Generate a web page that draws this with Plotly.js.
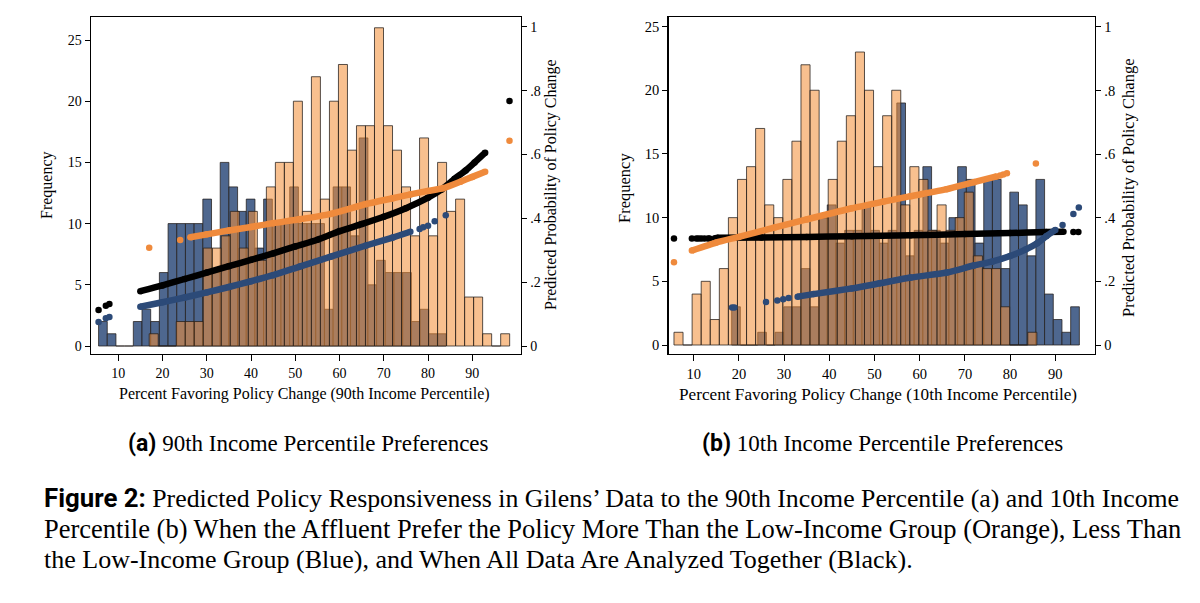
<!DOCTYPE html>
<html>
<head>
<meta charset="utf-8">
<script src="https://cdn.plot.ly/plotly-3.0.1.min.js"></script>
<style>
  html, body { margin: 0; padding: 0; background: #ffffff; }
  #chart { width: 1200px; height: 603px; }
</style>
</head>
<body>
<div id="chart"></div>
<script>
// ---- Histogram data: 40 bins per group (bin start and width in percent) ----
const leftBlueStart = 5.56, leftBlueWidth = 1.963;
const leftBlueCounts = [2,1,0,0,2,3,2,6,10,10, 10,10,12,6,15,13,11,12,8,12, 10,10,13,10,10,10,3,13,13,9, 17,5,7,6,6,6,2,3,1,1];
const leftOrangeStart = 17.0, leftOrangeWidth = 2.036;
const leftOrangeCounts = [1,0,0,2,2,2,8,8,9,11, 8,11,7,13,15,15,20,11,22,12, 20,23,16,18,18,26,18,16,13,9, 17,9,15,11,12,4,4,1,0,1];

const rightOrangeStart = 5.64, rightOrangeWidth = 2.007;
const rightOrangeCounts = [1,0,4,5,2,6,10,13,14,17, 11,10,13,16,22,20,10,13,16,18, 23,20,14,18,20,11,14,13,9,11, 9,10,12,7,6,6,3,0,0,1];
const rightBlueStart = 18.4, rightBlueWidth = 1.923;
const rightBlueCounts = [3,0,0,1,0,1,3,3,6,3, 10,11,8,9,9,11,9,8,9,19, 7,9,14,9,8,10,14,13,8,13, 13,6,12,11,7,13,4,2,1,3];

// ---- Predicted probabilities, panel (a) ----
const aBlackX = [15, 20, 25, 30, 35, 40, 45, 50, 55, 60, 65, 70, 75, 80, 83, 86, 88.5, 90.5, 92.9];
const aBlackP = [.172, .19, .21, .23, .25, .27, .29, .312, .333, .36, .382, .405, .432, .465, .49, .524, .55, .575, .606];
const aBlackDotsX = [5.56, 7.2, 8.0, 98.4];
const aBlackDotsP = [.113, .126, .132, .768];

const aOrangeX = [26.3, 30, 35, 40, 45, 51, 58, 66, 72, 76, 80, 83.5, 87.3, 90, 92.9];
const aOrangeP = [.341, .35, .362, .373, .385, .397, .414, .445, .463, .475, .486, .495, .515, .53, .546];
const aOrangeDotsX = [17.0, 24.0, 98.4];
const aOrangeDotsP = [.308, .332, .643];

const aBlueX = [15, 20, 25, 30, 35, 40, 45, 51, 58, 66, 72, 76];
const aBlueP = [.123, .137, .152, .168, .185, .203, .222, .249, .28, .315, .34, .358];
const aBlueDotsX = [5.56, 7.2, 8.0, 78.1, 78.9, 80.0, 81.5, 84.0];
const aBlueDotsP = [.075, .087, .091, .367, .372, .377, .391, .41];

// ---- Predicted probabilities, panel (b) ----
const bBlackX = [15.2, 25, 35, 45, 58, 70, 80, 88, 91.8];
const bBlackP = [.337, .338, .34, .342, .345, .349, .352, .355, .356];
const bBlackDotsX = [5.64, 9.6, 10.6, 11.1, 11.7, 12.4, 13.2, 13.5, 14.7, 94.0, 95.1];
const bBlackDotsP = [.335, .335, .335, .335, .335, .335, .335, .335, .336, .355, .355];

const bOrangeX = [9.6, 15, 20, 28, 35, 45, 52, 58, 66, 72, 77];
const bOrangeP = [.297, .322, .34, .37, .395, .43, .451, .468, .49, .512, .53];
const bOrangeDotsX = [5.64, 77.8, 78.5, 79.3, 85.7];
const bOrangeDotsP = [.26, .533, .536, .54, .571];

const bBlueX = [33, 36.5, 45, 51.2, 58, 66, 72, 76, 80, 83.4, 86, 88, 90];
const bBlueP = [.152, .16, .178, .194, .212, .228, .25, .262, .28, .3, .32, .342, .362];
const bBlueDotsX = [18.5, 19.0, 26.0, 28.5, 29.8, 31.0, 91.6, 94.0, 95.2];
const bBlueDotsP = [.118, .118, .135, .14, .144, .148, .377, .412, .432];

// ---- Tick labels ----
const freqTicks = [0, 5, 10, 15, 20, 25];
const probTicks = [0, .2, .4, .6, .8, 1];
const probTickText = ['0', '.2', '.4', '.6', '.8', '1'];
const pctTicks = [10, 20, 30, 40, 50, 60, 70, 80, 90];

// ---- Styling ----
const W = 1200, H = 603;
const BLUE_FILL = 'rgb(78,103,143)';
const ORANGE_FILL = 'rgba(243,143,56,0.56)';
const BAR_EDGE = 'rgba(35,30,28,0.85)';
const DOT_BLACK = '#000000';
const DOT_ORANGE = '#ef8a3c';
const DOT_BLUE = '#2c4a78';
const serif = 'Liberation Serif, Times New Roman, serif';
const condensed = 'Liberation Sans Narrow, Roboto, Liberation Sans, sans-serif';

function centers(start, width, n) {
  return Array.from({ length: n }, (_, i) => start + width * (i + 0.5));
}

function bars(start, width, counts, fill, xa, ya) {
  return {
    type: 'bar', x: centers(start, width, counts.length), y: counts,
    width: counts.map(() => width), xaxis: xa, yaxis: ya,
    marker: { color: fill, line: { color: BAR_EDGE, width: 0.9 } },
    hoverinfo: 'skip', showlegend: false
  };
}

function curve(x, y, color, xa, ya) {
  return {
    type: 'scatter', mode: 'lines+markers', x: x, y: y, xaxis: xa, yaxis: ya,
    line: { color: color, width: 6.5, shape: 'spline', smoothing: 0.6 },
    marker: { color: color, size: 6.5 }, hoverinfo: 'skip', showlegend: false
  };
}

function dots(x, y, color, xa, ya) {
  return {
    type: 'scatter', mode: 'markers', x: x, y: y, xaxis: xa, yaxis: ya,
    marker: { color: color, size: 6.5 }, hoverinfo: 'skip', showlegend: false
  };
}

const data = [
  bars(leftBlueStart, leftBlueWidth, leftBlueCounts, BLUE_FILL, 'x', 'y'),
  bars(leftOrangeStart, leftOrangeWidth, leftOrangeCounts, ORANGE_FILL, 'x', 'y'),
  curve(aBlackX, aBlackP, DOT_BLACK, 'x', 'y2'),
  dots(aBlackDotsX, aBlackDotsP, DOT_BLACK, 'x', 'y2'),
  curve(aOrangeX, aOrangeP, DOT_ORANGE, 'x', 'y2'),
  dots(aOrangeDotsX, aOrangeDotsP, DOT_ORANGE, 'x', 'y2'),
  curve(aBlueX, aBlueP, DOT_BLUE, 'x', 'y2'),
  dots(aBlueDotsX, aBlueDotsP, DOT_BLUE, 'x', 'y2'),

  bars(rightBlueStart, rightBlueWidth, rightBlueCounts, BLUE_FILL, 'x2', 'y3'),
  bars(rightOrangeStart, rightOrangeWidth, rightOrangeCounts, ORANGE_FILL, 'x2', 'y3'),
  curve(bBlackX, bBlackP, DOT_BLACK, 'x2', 'y4'),
  dots(bBlackDotsX, bBlackDotsP, DOT_BLACK, 'x2', 'y4'),
  curve(bOrangeX, bOrangeP, DOT_ORANGE, 'x2', 'y4'),
  dots(bOrangeDotsX, bOrangeDotsP, DOT_ORANGE, 'x2', 'y4'),
  curve(bBlueX, bBlueP, DOT_BLUE, 'x2', 'y4'),
  dots(bBlueDotsX, bBlueDotsP, DOT_BLUE, 'x2', 'y4')
];

const px = v => v / W;
const py = v => 1 - v / H;
const plotDomain = [py(354), py(17)];

function xAxis(domain, range, anchor, size) {
  return {
    domain: domain, range: range, anchor: anchor, tickvals: pctTicks,
    ticks: 'outside', ticklen: 6, tickwidth: 1, tickcolor: '#000',
    ticklabelstandoff: 0,
    showline: true, linecolor: '#000', linewidth: 1.4, mirror: true,
    showgrid: false, zeroline: false, fixedrange: true,
    tickfont: { family: serif, size: size, color: '#000' }
  };
}
function yAxis(range, anchor, size) {
  return {
    domain: plotDomain, range: range, anchor: anchor, tickvals: freqTicks,
    ticks: 'outside', ticklen: 5, tickwidth: 1, tickcolor: '#000',
    showline: true, linecolor: '#000', linewidth: 1.4,
    showgrid: false, zeroline: false, fixedrange: true,
    tickfont: { family: serif, size: size, color: '#000' }
  };
}
function probAxis(range, over, anchor, size) {
  return {
    overlaying: over, side: 'right', range: range, anchor: anchor,
    tickvals: probTicks, ticktext: probTickText,
    ticks: 'outside', ticklen: 5, tickwidth: 1, tickcolor: '#000',
    showline: true, linecolor: '#000', linewidth: 1.4,
    showgrid: false, zeroline: false, fixedrange: true,
    tickfont: { family: serif, size: size, color: '#000' }
  };
}

function label(text, x, y, size, opts) {
  return Object.assign({
    text: text, xref: 'paper', yref: 'paper', x: px(x), y: py(y),
    showarrow: false, xanchor: 'center', yanchor: 'middle',
    font: { family: serif, size: size, color: '#000' }
  }, opts || {});
}

const bold = t => '<span style="font-family:' + condensed + ';font-weight:bold">' + t + '</span>';

const annotations = [
  label('Frequency', 47, 185, 16, { textangle: -90 }),
  label('Predicted Probability of Policy Change', 551, 185, 16, { textangle: -90 }),
  label('Percent Favoring Policy Change (90th Income Percentile)', 304, 394, 16),
  label('Frequency', 624, 188, 16.5, { textangle: -90 }),
  label('Predicted Probability of Policy Change', 1128, 188, 16.5, { textangle: -90 }),
  label('Percent Favoring Policy Change (10th Income Percentile)', 878, 394, 17.2),
  label(bold('(a)') + ' 90th Income Percentile Preferences', 308, 443, 23),
  label(bold('(b)') + ' 10th Income Percentile Preferences', 882, 443, 23),
  label(bold('Figure 2:') + ' Predicted Policy Responsiveness in Gilens\u2019 Data to the 90th Income Percentile (a) and 10th Income', 42, 498, 25.8, { xanchor: 'left' }),
  label('Percentile (b) When the Affluent Prefer the Policy More Than the Low-Income Group (Orange), Less Than', 42, 529, 26.5, { xanchor: 'left' }),
  label('the Low-Income Group (Blue), and When All Data Are Analyzed Together (Black).', 42, 559, 26, { xanchor: 'left' })
];

const layout = {
  width: W, height: H, autosize: false,
  margin: { l: 0, r: 0, t: 0, b: 0, pad: 0 },
  paper_bgcolor: '#ffffff', plot_bgcolor: '#ffffff',
  barmode: 'overlay', bargap: 0, showlegend: false,
  xaxis: xAxis([px(91), px(521)], [3.85, 101.0], 'y', 14),
  yaxis: yAxis([-0.654, 26.88], 'x', 14),
  yaxis2: probAxis([-0.025, 1.031], 'y', 'x', 14),
  xaxis2: xAxis([px(668.5), px(1095)], [4.43, 98.78], 'y3', 14.5),
  yaxis3: yAxis([-0.706, 25.75], 'x2', 14.5),
  yaxis4: probAxis([-0.0283, 1.0314], 'y3', 'x2', 14.5),
  annotations: annotations
};

Plotly.newPlot('chart', data, layout, { staticPlot: true, displayModeBar: false });
</script>
</body>
</html>
